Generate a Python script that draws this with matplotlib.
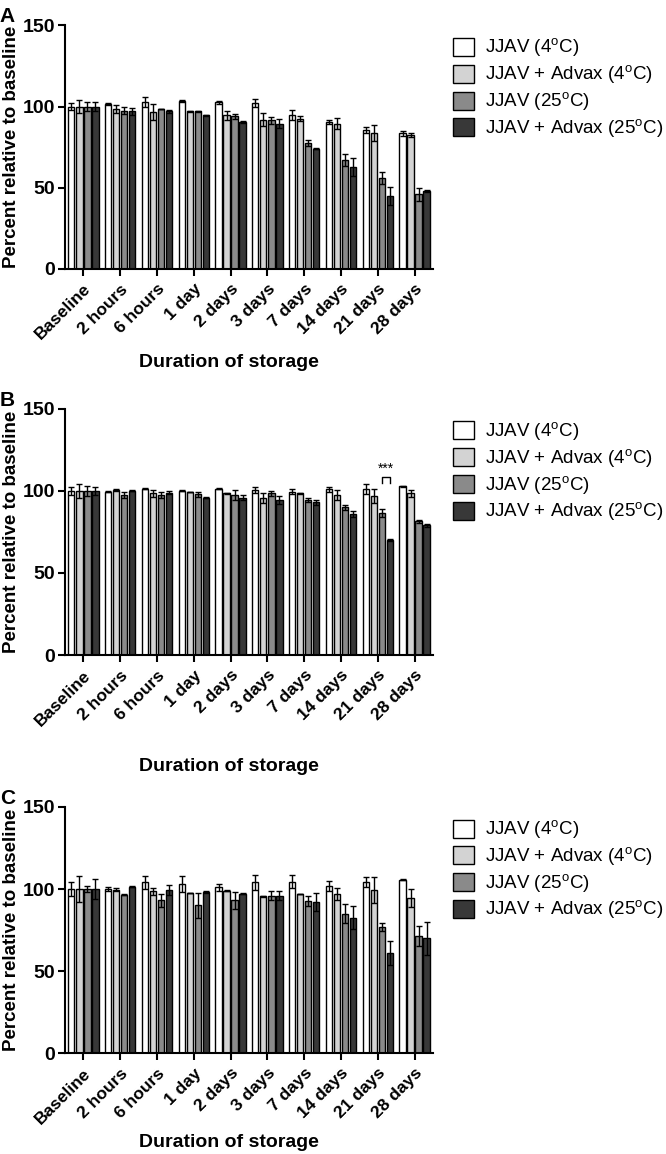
import numpy as np
import matplotlib
matplotlib.use('Agg')
import matplotlib.pyplot as plt

plt.rcParams['font.family'] = ['Liberation Sans', 'DejaVu Sans']
plt.rcParams['mathtext.fontset'] = 'custom'
plt.rcParams['mathtext.rm'] = 'Liberation Sans'

timepoints = ['Baseline', '2 hours', '6 hours', '1 day', '2 days', '3 days',
              '7 days', '14 days', '21 days', '28 days']
series_names = [r'JJAV (4$^{\mathrm{o}}$C)', r'JJAV + Advax (4$^{\mathrm{o}}$C)',
                r'JJAV (25$^{\mathrm{o}}$C)', r'JJAV + Advax (25$^{\mathrm{o}}$C)']
colors = ['#ffffff', '#d3d3d3', '#8a8a8a', '#383838']

# Panel A
a_mean = [
    [100, 101.5, 103, 103.5, 102.5, 102, 95, 90.5, 85.5, 83.5],
    [100, 98.5, 96.5, 97, 94.5, 92, 92.5, 89.5, 83.5, 82.5],
    [100, 97.5, 98.5, 97, 94, 91.5, 77.5, 67, 56, 46],
    [100, 97, 97, 94.5, 90.5, 89.5, 74, 62.5, 45, 48],
]
a_err = [
    [2, 0.5, 3, 0.5, 0.8, 2.5, 3, 1.5, 2, 1.5],
    [4, 2.5, 5, 0.3, 3, 4, 1.5, 3.5, 5, 1],
    [3, 2, 0.3, 0.3, 1.5, 2, 2, 3.5, 3.5, 4],
    [3, 2, 1, 0.3, 0.5, 3, 0.3, 5.5, 5.5, 0.5],
]

# Panel B
b_mean = [
    [100, 99.5, 101.5, 100, 101.5, 100.5, 99.5, 101, 101, 103],
    [100, 100.5, 98.5, 99.5, 98.5, 95.5, 98.5, 97.5, 97, 98.5],
    [100, 97.5, 97.5, 98, 97.5, 98.5, 94.5, 90, 86.5, 81.5],
    [100, 100, 99, 96, 96, 94.5, 93, 86, 70, 79],
]
b_err = [
    [2.5, 0.3, 0.3, 0.3, 0.5, 2, 1.5, 1.5, 3, 0.3],
    [4, 0.5, 2, 0.1, 0.5, 3, 0.5, 3, 4.5, 2],
    [3, 2, 2, 1.5, 3, 1.5, 1.5, 1.5, 2.5, 1],
    [2.5, 0.3, 1, 0.1, 1.5, 2.5, 1.5, 2, 0.5, 1],
]

# Panel C
c_mean = [
    [100, 100, 104, 103, 101, 104, 104.5, 102, 104.5, 105.5],
    [100, 99.5, 98.5, 97.5, 99, 95.5, 97, 97, 99.5, 94.5],
    [100, 96.5, 93, 90, 93, 96, 92.5, 85, 77, 71.5],
    [100, 101.5, 99.5, 98, 97, 96, 92, 82.5, 61, 70],
]
c_err = [
    [4, 1.5, 4, 5, 2, 4.5, 4, 3, 3, 0.3],
    [8, 1, 2, 0.1, 0.3, 0.3, 0.1, 3.5, 8, 5.5],
    [2, 0.3, 4, 7.5, 5, 3, 3, 6, 2.5, 6],
    [6, 0.3, 3, 0.5, 0.3, 3, 5.5, 7, 7.5, 10],
]

panels = [('A', a_mean, a_err), ('B', b_mean, b_err), ('C', c_mean, c_err)]
# axes boxes [left, bottom, width, height] in figure fractions
boxes = [[0.0976, 0.767, 0.5525, 0.211],
         [0.0976, 0.4324, 0.5525, 0.2132],
         [0.0976, 0.0875, 0.5525, 0.2132]]
xlabel_y = [-0.385, -0.452, -0.365]

fig = plt.figure(figsize=(6.66, 11.54), dpi=100)

x = np.arange(len(timepoints))
pitch = 0.218
width = 0.17

for (letter, means, errs), box, xly in zip(panels, boxes, xlabel_y):
    ax = fig.add_axes(box)
    for i in range(4):
        pos = x + (i - 1.5) * pitch
        ax.bar(pos, means[i], width, color=colors[i], edgecolor='black',
               linewidth=1.0, label=series_names[i], zorder=2)
        ax.errorbar(pos, means[i], yerr=errs[i], fmt='none', ecolor='black',
                    elinewidth=1.0, capsize=2, capthick=1.0, zorder=3)

    ax.set_xlim(-0.5, len(timepoints) - 0.5)
    ax.set_ylim(0, 150)
    ax.set_yticks([0, 50, 100, 150])
    ax.set_xticks(x)
    ax.set_xticklabels(timepoints, rotation=45, ha='right',
                       rotation_mode='anchor', fontsize=12.5, fontweight='bold')
    for lab in ax.get_yticklabels():
        lab.set_fontweight('bold')
        lab.set_fontsize(14)
    ax.spines['top'].set_visible(False)
    ax.spines['right'].set_visible(False)
    ax.spines['left'].set_linewidth(1.5)
    ax.spines['bottom'].set_linewidth(1.5)
    ax.tick_params(axis='both', width=1.5, length=5, pad=2)
    ax.tick_params(axis='x', pad=4)
    ax.set_ylabel('Percent relative to baseline', fontsize=13.5,
                  fontweight='bold', va='center')
    ax.yaxis.set_label_coords(-0.145, 0.5)
    ax.set_xlabel('Duration of storage', fontsize=14, fontweight='bold',
                  va='center')
    ax.xaxis.set_label_coords(0.446, xly)
    ax.text(-0.177, 1.035, letter, transform=ax.transAxes, fontsize=15,
            fontweight='bold', va='center', ha='left')

    ax.legend(loc='upper left', bbox_to_anchor=(1.035, 0.985), frameon=False,
              fontsize=13.5, handlelength=1.1, handleheight=1.1,
              handletextpad=0.6, labelspacing=0.22, borderaxespad=0)

    if letter == 'B':
        x1 = 8 + 0.5 * pitch
        x2 = 8 + 1.5 * pitch
        ax.plot([x1, x1, x2, x2], [105, 108.5, 108.5, 105], color='black',
                linewidth=1.0)
        ax.text((x1 + x2) / 2, 109.5, '***', ha='center', va='bottom',
                fontsize=10)

fig.savefig('out.png', dpi=100)
